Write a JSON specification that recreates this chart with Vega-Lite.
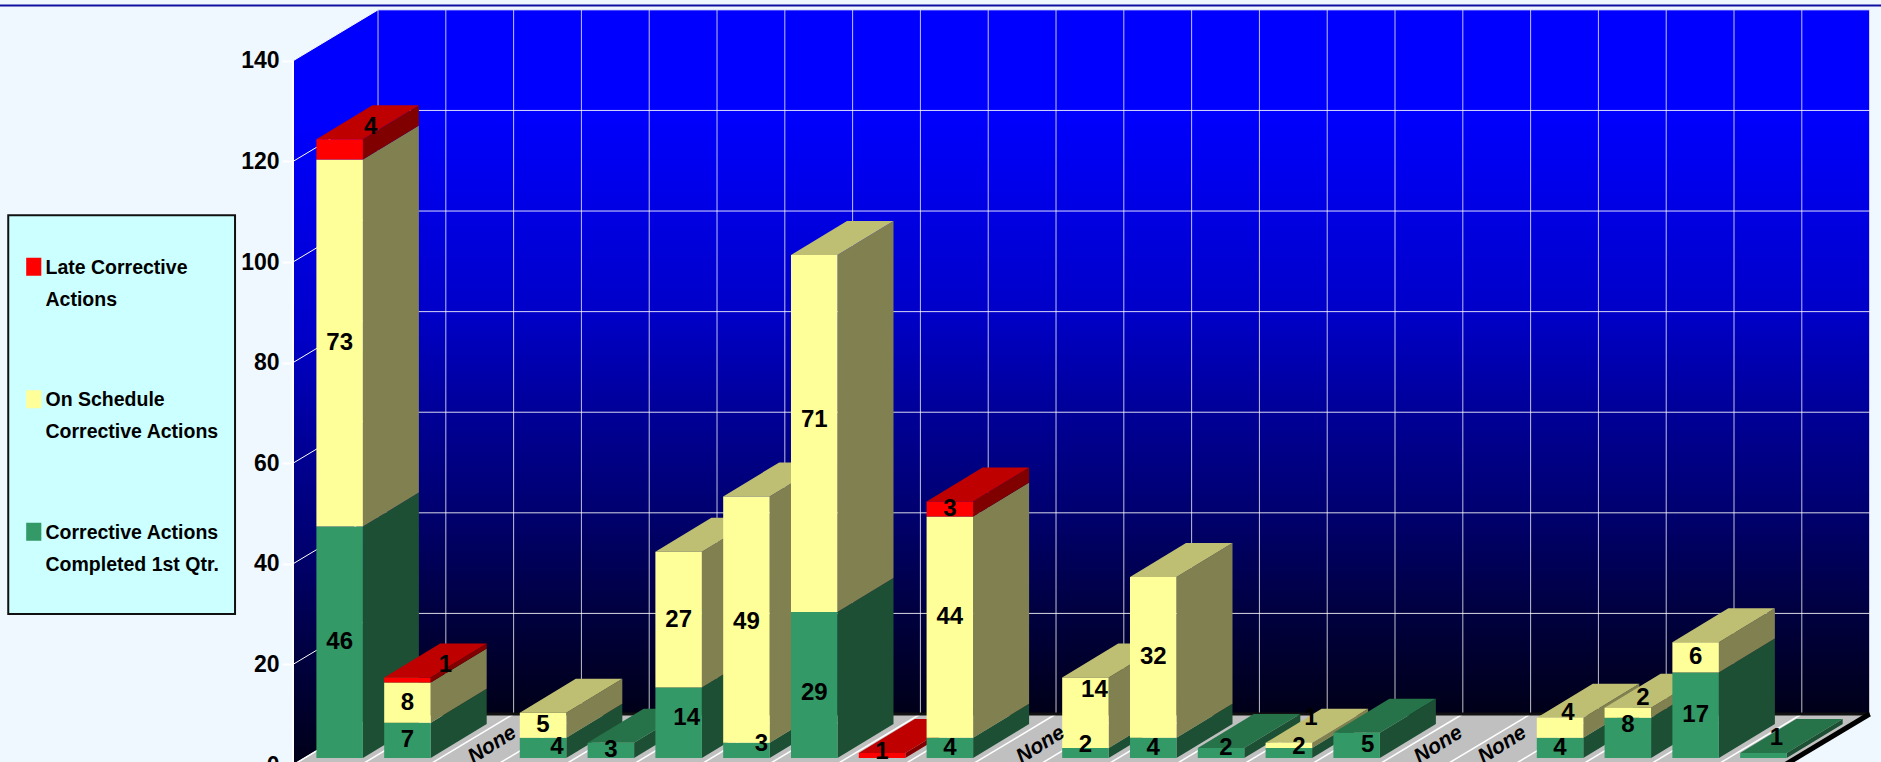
{
"$schema":"https://vega.github.io/schema/vega-lite/v6.json",
"autosize":"none",
"padding":{"left":293,"top":0,"right":0,"bottom":0},
"width":1588,"height":762,
"background":"#F0F8FF",
"view":{"stroke":null},
"config":{"text":{"font":"Liberation Sans"},"axisY":{"title":null,"grid":false,"domain":false,"tickColor":"#FFFFFF","tickSize":11,"tickWidth":2,"labelFont":"Liberation Sans","labelFontWeight":"bold","labelFontSize":23,"labelColor":"#000000","labelPadding":3}},
"datasets":{
"rows":[
{"item":0,"series":"Corrective Actions Completed 1st Qtr.","value":46},{"item":0,"series":"On Schedule Corrective Actions","value":73},{"item":0,"series":"Late Corrective Actions","value":4},
{"item":1,"series":"Corrective Actions Completed 1st Qtr.","value":7},{"item":1,"series":"On Schedule Corrective Actions","value":8},{"item":1,"series":"Late Corrective Actions","value":1},
{"item":3,"series":"Corrective Actions Completed 1st Qtr.","value":4},{"item":3,"series":"On Schedule Corrective Actions","value":5},
{"item":4,"series":"Corrective Actions Completed 1st Qtr.","value":3},
{"item":5,"series":"Corrective Actions Completed 1st Qtr.","value":14},{"item":5,"series":"On Schedule Corrective Actions","value":27},
{"item":6,"series":"Corrective Actions Completed 1st Qtr.","value":3},{"item":6,"series":"On Schedule Corrective Actions","value":49},
{"item":7,"series":"Corrective Actions Completed 1st Qtr.","value":29},{"item":7,"series":"On Schedule Corrective Actions","value":71},
{"item":8,"series":"Late Corrective Actions","value":1},
{"item":9,"series":"Corrective Actions Completed 1st Qtr.","value":4},{"item":9,"series":"On Schedule Corrective Actions","value":44},{"item":9,"series":"Late Corrective Actions","value":3},
{"item":11,"series":"Corrective Actions Completed 1st Qtr.","value":2},{"item":11,"series":"On Schedule Corrective Actions","value":14},
{"item":12,"series":"Corrective Actions Completed 1st Qtr.","value":4},{"item":12,"series":"On Schedule Corrective Actions","value":32},
{"item":13,"series":"Corrective Actions Completed 1st Qtr.","value":2},
{"item":14,"series":"Corrective Actions Completed 1st Qtr.","value":2},{"item":14,"series":"On Schedule Corrective Actions","value":1},
{"item":15,"series":"Corrective Actions Completed 1st Qtr.","value":5},
{"item":18,"series":"Corrective Actions Completed 1st Qtr.","value":4},{"item":18,"series":"On Schedule Corrective Actions","value":4},
{"item":19,"series":"Corrective Actions Completed 1st Qtr.","value":8},{"item":19,"series":"On Schedule Corrective Actions","value":2},
{"item":20,"series":"Corrective Actions Completed 1st Qtr.","value":17},{"item":20,"series":"On Schedule Corrective Actions","value":6},
{"item":21,"series":"Corrective Actions Completed 1st Qtr.","value":1}
],
"none":[{"item":2,"note":"None"},{"item":10,"note":"None"},{"item":16,"note":"None"},{"item":17,"note":"None"}],
"ticks":[{"v":0},{"v":20},{"v":40},{"v":60},{"v":80},{"v":100},{"v":120},{"v":140}],
"slots":[{"s":0},{"s":1},{"s":2},{"s":3},{"s":4},{"s":5},{"s":6},{"s":7},{"s":8},{"s":9},{"s":10},{"s":11},{"s":12},{"s":13},{"s":14},{"s":15},{"s":16},{"s":17},{"s":18},{"s":19},{"s":20},{"s":21},{"s":22}],
"depth":[{"t":0},{"t":1}],
"one":[{"k":1}]
},
"layer":[
{"data":{"name":"one"},"mark":{"type":"rect","fill":"#CCFFFF","stroke":"#111111","strokeWidth":2},
 "encoding":{"x":{"datum":-4.2,"type":"quantitative","scale":{"domain":[0,23.422],"nice":false,"zero":false},"axis":null},"x2":{"datum":-0.855},
 "y":{"datum":109.3,"type":"quantitative","scale":{"domain":[0,152.1],"range":[765,0],"nice":false,"zero":false}},"y2":{"datum":30}}},
{"data":{"name":"depth"},"transform":[{"calculate":"datum.t*1.254","as":"x"},{"calculate":"140+datum.t*10.14","as":"y1"},{"calculate":"datum.t*10.14","as":"y0"}],
 "mark":{"type":"area","orient":"vertical","color":{"gradient":"linear","x1":0,"y1":0,"x2":0,"y2":1,"stops":[{"offset":0,"color":"#0000FF"},{"offset":0.14,"color":"#0000FF"},{"offset":0.43,"color":"#0000C8"},{"offset":0.57,"color":"#000098"},{"offset":0.71,"color":"#000070"},{"offset":0.855,"color":"#000040"},{"offset":1,"color":"#000018"}]}},
 "encoding":{"x":{"field":"x","type":"quantitative","scale":{"domain":[0,23.422],"nice":false,"zero":false},"axis":null},
 "y":{"field":"y1","type":"quantitative","stack":null,"scale":{"domain":[0,152.1],"range":[765,0],"nice":false,"zero":false},
  "axis":{"title":null,"values":[0,20,40,60,80,100,120,140]}},
 "y2":{"field":"y0"}}},
{"data":{"name":"one"},"mark":{"type":"rect","color":{"gradient":"linear","x1":0,"y1":0,"x2":0,"y2":1,"stops":[{"offset":0,"color":"#0000FF"},{"offset":0.14,"color":"#0000FF"},{"offset":0.43,"color":"#0000C8"},{"offset":0.57,"color":"#000098"},{"offset":0.71,"color":"#000070"},{"offset":0.855,"color":"#000040"},{"offset":1,"color":"#000018"}]}},
 "encoding":{"x":{"datum":1.254,"type":"quantitative","scale":{"domain":[0,23.422],"nice":false,"zero":false},"axis":null},"x2":{"datum":23.254},
 "y":{"datum":150.14,"type":"quantitative","scale":{"domain":[0,152.1],"range":[765,0],"nice":false,"zero":false}},"y2":{"datum":10.14}}},
{"data":{"name":"depth"},"transform":[{"calculate":"datum.t*1.254","as":"xa"},{"calculate":"22+datum.t*1.254","as":"xb"},{"calculate":"datum.t*10.14","as":"y"}],
 "mark":{"type":"area","orient":"horizontal","color":"#C0C0C0"},
 "encoding":{"x":{"field":"xa","type":"quantitative","stack":null,"scale":{"domain":[0,23.422],"nice":false,"zero":false},"axis":null},"x2":{"field":"xb"},
 "y":{"field":"y","type":"quantitative","scale":{"domain":[0,152.1],"range":[765,0],"nice":false,"zero":false}}}},
{"data":{"name":"slots"},"transform":[{"calculate":"datum.s+1.254","as":"xb"}],
 "mark":{"type":"rule","color":"#FFFFFF","strokeWidth":1,"opacity":0.75},
 "encoding":{"x":{"field":"xb","type":"quantitative","scale":{"domain":[0,23.422],"nice":false,"zero":false},"axis":null},
 "y":{"datum":150.14,"type":"quantitative","scale":{"domain":[0,152.1],"range":[765,0],"nice":false,"zero":false}},"y2":{"datum":10.14}}},
{"data":{"name":"slots"},"transform":[{"calculate":"datum.s+1.254","as":"xb"}],
 "mark":{"type":"rule","color":"#FFFFFF","strokeWidth":1.5},
 "encoding":{"x":{"field":"s","type":"quantitative","scale":{"domain":[0,23.422],"nice":false,"zero":false},"axis":null},"x2":{"field":"xb"},
 "y":{"datum":0,"type":"quantitative","scale":{"domain":[0,152.1],"range":[765,0],"nice":false,"zero":false}},"y2":{"datum":10.14}}},
{"data":{"name":"ticks"},"transform":[{"calculate":"datum.v+10.14","as":"yb"}],
 "mark":{"type":"rule","color":"#FFFFFF","strokeWidth":1,"opacity":0.85},
 "encoding":{"x":{"datum":1.254,"type":"quantitative","scale":{"domain":[0,23.422],"nice":false,"zero":false},"axis":null},"x2":{"datum":23.254},
 "y":{"field":"yb","type":"quantitative","scale":{"domain":[0,152.1],"range":[765,0],"nice":false,"zero":false}}}},
{"data":{"name":"ticks"},"transform":[{"calculate":"datum.v+10.14","as":"yb"}],
 "mark":{"type":"rule","color":"#FFFFFF","strokeWidth":1},
 "encoding":{"x":{"datum":0,"type":"quantitative","scale":{"domain":[0,23.422],"nice":false,"zero":false},"axis":null},"x2":{"datum":1.254},
 "y":{"field":"v","type":"quantitative","scale":{"domain":[0,152.1],"range":[765,0],"nice":false,"zero":false}},"y2":{"field":"yb"}}},
{"data":{"name":"one"},"mark":{"type":"rule","color":"#FFFFFF","strokeWidth":2},
 "encoding":{"x":{"datum":0,"type":"quantitative","scale":{"domain":[0,23.422],"nice":false,"zero":false},"axis":null},
 "y":{"datum":0,"type":"quantitative","scale":{"domain":[0,152.1],"range":[765,0],"nice":false,"zero":false}},"y2":{"datum":140}}},
{"data":{"name":"one"},"mark":{"type":"rule","color":"#111111","strokeWidth":3},
 "encoding":{"x":{"datum":1.254,"type":"quantitative","scale":{"domain":[0,23.422],"nice":false,"zero":false},"axis":null},"x2":{"datum":23.254},
 "y":{"datum":10.14,"type":"quantitative","scale":{"domain":[0,152.1],"range":[765,0],"nice":false,"zero":false}}}},
{"data":{"name":"one"},"mark":{"type":"rule","color":"#000000","strokeWidth":5},
 "encoding":{"x":{"datum":22,"type":"quantitative","scale":{"domain":[0,23.422],"nice":false,"zero":false},"axis":null},"x2":{"datum":23.254},
 "y":{"datum":0,"type":"quantitative","scale":{"domain":[0,152.1],"range":[765,0],"nice":false,"zero":false}},"y2":{"datum":10.14}}},
{"data":{"name":"one"},"mark":{"type":"rule","color":"#1010A0","strokeWidth":2},
 "encoding":{"x":{"datum":-4.33,"type":"quantitative","scale":{"domain":[0,23.422],"nice":false,"zero":false},"axis":null},"x2":{"datum":23.422},
 "y":{"datum":151.0,"type":"quantitative","scale":{"domain":[0,152.1],"range":[765,0],"nice":false,"zero":false}}}},
{"data":{"name":"rows"},
 "transform":[
  {"calculate":"indexof(['Corrective Actions Completed 1st Qtr.','On Schedule Corrective Actions','Late Corrective Actions'],datum.series)","as":"ord"},
  {"stack":"value","groupby":["item"],"sort":[{"field":"ord","order":"ascending"}],"as":["v0","v1"]},
  {"joinaggregate":[{"op":"max","field":"v1","as":"total"}],"groupby":["item"]},
  {"calculate":"datum.item+0.345","as":"xL"},
  {"calculate":"datum.xL+0.686","as":"xR"},
  {"calculate":"datum.v0+1.4","as":"f0"},
  {"calculate":"datum.v1+1.4","as":"f1"},
  {"calculate":"['#1C4F33','#808050','#800000'][datum.ord]","as":"sideColor"},
  {"calculate":"['#267349','#BFBF73','#BF0000'][datum.ord]","as":"topColor"},
  {"calculate":"datum.item+'-'+substring(datum.series,0,1)","as":"key"}
 ],
 "layer":[
  {"transform":[{"calculate":"[0,1]","as":"t"},{"flatten":["t"]},{"calculate":"datum.xR+datum.t*0.826","as":"sx"},{"calculate":"datum.f1+datum.t*6.76","as":"sy1"},{"calculate":"datum.f0+datum.t*6.76","as":"sy0"}],
   "mark":{"type":"area","orient":"vertical"},
   "encoding":{"x":{"field":"sx","type":"quantitative","scale":{"domain":[0,23.422],"nice":false,"zero":false},"axis":null},
   "y":{"field":"sy1","type":"quantitative","stack":null,"scale":{"domain":[0,152.1],"range":[765,0],"nice":false,"zero":false}},"y2":{"field":"sy0"},
   "detail":{"field":"key"},"fill":{"field":"sideColor","type":"nominal","scale":null,"legend":null}}},
  {"transform":[{"filter":"datum.v1==datum.total"},{"calculate":"[0,1]","as":"t"},{"flatten":["t"]},{"calculate":"datum.xL+datum.t*0.826","as":"ta"},{"calculate":"datum.xR+datum.t*0.826","as":"tb"},{"calculate":"datum.f1+datum.t*6.76","as":"ty"}],
   "mark":{"type":"area","orient":"horizontal"},
   "encoding":{"x":{"field":"ta","type":"quantitative","stack":null,"scale":{"domain":[0,23.422],"nice":false,"zero":false},"axis":null},"x2":{"field":"tb"},
   "y":{"field":"ty","type":"quantitative","scale":{"domain":[0,152.1],"range":[765,0],"nice":false,"zero":false}},
   "detail":{"field":"key"},"fill":{"field":"topColor","type":"nominal","scale":null,"legend":null}}},
  {"mark":{"type":"rect"},
   "encoding":{"x":{"field":"xL","type":"quantitative","scale":{"domain":[0,23.422],"nice":false,"zero":false},"axis":null},"x2":{"field":"xR"},
   "y":{"field":"f1","type":"quantitative","scale":{"domain":[0,152.1],"range":[765,0],"nice":false,"zero":false}},"y2":{"field":"f0"},
   "color":{"field":"series","type":"nominal","scale":{"domain":["Late Corrective Actions","On Schedule Corrective Actions","Corrective Actions Completed 1st Qtr."],"range":["#FF0000","#FFFF99","#339966"]},
    "legend":{"title":null,"orient":"none","legendX":-269,"legendY":257,"padding":0,"zindex":2,"symbolType":"M-0.84,-1H0.84V1H-0.84Z","symbolSize":324,"symbolStrokeWidth":0,"labelFont":"Liberation Sans","labelFontWeight":"bold","labelFontSize":19.5,"labelColor":"#000000","labelBaseline":"top","labelLimit":300,"labelOffset":2,"rowPadding":79.5,
     "labelExpr":"{'Late Corrective Actions':['Late Corrective','Actions'],'On Schedule Corrective Actions':['On Schedule','Corrective Actions'],'Corrective Actions Completed 1st Qtr.':['Corrective Actions','Completed 1st Qtr.']}[datum.label]",
     "encoding":{"labels":{"lineHeight":{"value":32},"dy":{"value":-8},"update":{"lineHeight":{"value":32},"dy":{"value":-8}}}}}}}},
  {"transform":[
    {"calculate":"({'0-L':[31,-22],'1-L':[38,-15],'3-C':[14,-1],'5-C':[8,-5],'6-C':[15,-6],'6-O':[0,2],'7-O':[0,-14],'7-C':[0,8],'8-L':[0,-3],'9-O':[0,-10],'11-C':[0,-8],'11-O':[9,-23],'13-C':[5,-5],'14-C':[10,-6],'14-O':[22,-27],'15-C':[11,0],'18-O':[8,-15],'19-C':[0,-13],'19-O':[15,-15],'21-C':[13,-17]})[datum.key]||[0,0]","as":"sh"},
    {"calculate":"(datum.xL+datum.xR)/2+datum.sh[0]/67.8","as":"lx"},
    {"calculate":"(datum.f0+datum.f1)/2-datum.sh[1]/5.03","as":"ly"}],
   "mark":{"type":"text","font":"Liberation Sans","fontWeight":"bold","fontSize":24,"color":"#000000","baseline":"middle","align":"center"},
   "encoding":{"x":{"field":"lx","type":"quantitative","scale":{"domain":[0,23.422],"nice":false,"zero":false},"axis":null},
   "y":{"field":"ly","type":"quantitative","scale":{"domain":[0,152.1],"range":[765,0],"nice":false,"zero":false}},
   "text":{"field":"value","type":"quantitative"}}}
 ]},
{"data":{"name":"none"},"transform":[{"calculate":"({'2':17,'10':23,'16':14,'17':10})[datum.item+'']","as":"sh"},{"calculate":"datum.item+0.688+datum.sh/67.8","as":"lx"}],
 "mark":{"type":"text","font":"Liberation Sans","fontWeight":"bold","fontStyle":"italic","fontSize":21,"angle":-32,"color":"#000000","baseline":"middle","align":"center"},
 "encoding":{"x":{"field":"lx","type":"quantitative","scale":{"domain":[0,23.422],"nice":false,"zero":false},"axis":null},
 "y":{"datum":4,"type":"quantitative","scale":{"domain":[0,152.1],"range":[765,0],"nice":false,"zero":false}},
 "text":{"field":"note","type":"nominal"}}}
]
}
